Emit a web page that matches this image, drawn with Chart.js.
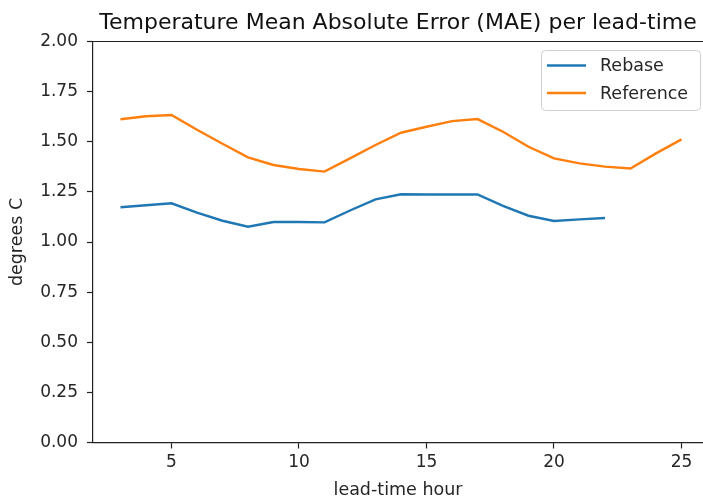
<!DOCTYPE html>
<html>
<head>
<meta charset="utf-8">
<script src="https://cdn.jsdelivr.net/npm/chart.js@4/dist/chart.umd.min.js"></script>
<style>
  html, body { margin: 0; padding: 0; background: #fff; overflow: hidden; }
  #wrap { width: 703px; height: 501px; position: relative; }
</style>
</head>
<body>
<div id="wrap"><canvas id="c" width="703" height="501"></canvas></div>
<script>
// ---- data ----
const hoursRebase = [3,4,5,6,7,8,9,10,11,12,13,14,15,16,17,18,19,20,21,22];
const rebaseMAE   = [1.173,1.183,1.193,1.146,1.106,1.076,1.100,1.100,1.098,1.157,1.213,1.238,1.237,1.237,1.237,1.180,1.131,1.105,1.113,1.120];
const hoursReference = [3,4,5,6,7,8,9,10,11,12,13,14,15,16,17,18,19,20,21,22,23,24,25];
const referenceMAE   = [1.612,1.627,1.633,1.560,1.490,1.422,1.384,1.364,1.351,1.417,1.484,1.545,1.575,1.603,1.613,1.550,1.475,1.417,1.392,1.376,1.367,1.442,1.512];
const xTicks = [5,10,15,20,25];
const yTicks = [0,0.25,0.5,0.75,1.0,1.25,1.5,1.75,2.0];
const seriesNames = ['Rebase','Reference'];
const titleText = 'Temperature Mean Absolute Error (MAE) per lead-time';
const xLabel = 'lead-time hour';
const yLabel = 'degrees C';

const FONT = 'DejaVu Sans';
const toPts = (xs, ys) => xs.map((x, i) => ({x: x, y: ys[i]}));

const frameTop = {
  id: 'frameTop',
  afterDraw(chart) {
    const {ctx, chartArea: a} = chart;
    ctx.save();
    ctx.strokeStyle = '#222';
    ctx.lineWidth = 1.2;
    ctx.beginPath();
    ctx.moveTo(a.left, a.top);
    ctx.lineTo(a.right + 10, a.top);
    ctx.stroke();
    ctx.restore();
  }
};

const boxLegend = {
  id: 'boxLegend',
  afterDraw(chart) {
    const {ctx} = chart;
    const ds = chart.data.datasets;
    const bx = 541, by = 50, bw = 159, bh = 60;
    ctx.save();
    ctx.fillStyle = 'rgba(255,255,255,0.8)';
    ctx.strokeStyle = '#d0d0d0';
    ctx.lineWidth = 1;
    ctx.beginPath();
    ctx.roundRect(bx + 0.5, by + 0.5, bw, bh, 4);
    ctx.fill();
    ctx.stroke();
    ctx.font = '17.5px "' + FONT + '"';
    ctx.textBaseline = 'middle';
    ctx.textAlign = 'left';
    ds.forEach((d, i) => {
      const y = 65.5 + i * 27.5;
      ctx.strokeStyle = d.borderColor;
      ctx.lineWidth = 2.4;
      ctx.beginPath();
      ctx.moveTo(547, y);
      ctx.lineTo(586, y);
      ctx.stroke();
      ctx.fillStyle = '#262626';
      ctx.fillText(d.label, 600, y + 1);
    });
    ctx.restore();
  }
};

new Chart(document.getElementById('c'), {
  type: 'line',
  data: {
    datasets: [
      { label: seriesNames[0], data: toPts(hoursRebase, rebaseMAE), borderColor: '#1f77b4', borderWidth: 2.4, pointRadius: 0, tension: 0, fill: false },
      { label: seriesNames[1], data: toPts(hoursReference, referenceMAE), borderColor: '#ff7f0e', borderWidth: 2.4, pointRadius: 0, tension: 0, fill: false }
    ]
  },
  options: {
    responsive: false,
    animation: false,
    layout: { padding: 0 },
    plugins: {
      legend: { display: false },
      tooltip: { enabled: false },
      title: {
        display: true,
        text: titleText,
        fullSize: false,
        color: '#111',
        font: { family: FONT, size: 22, weight: 'normal', lineHeight: 1.2 },
        padding: { top: 10.2, bottom: 4.9 }
      }
    },
    scales: {
      x: {
        type: 'linear',
        min: 1.922,
        max: 25.843,
        afterFit(s) { s.height = 58.5; },
        afterBuildTicks(s) { s.ticks = xTicks.map(v => ({value: v})); },
        ticks: { font: { family: FONT, size: 17 }, color: '#262626', padding: 4, maxRotation: 0, includeBounds: false },
        grid: { drawOnChartArea: false, drawTicks: true, tickLength: 6, tickColor: '#222', tickWidth: 1.2 },
        border: { display: true, color: '#222', width: 1.2 },
        title: { display: true, text: xLabel, color: '#262626', font: { family: FONT, size: 17.5 }, padding: { top: 0, bottom: 0 } }
      },
      y: {
        min: 0,
        max: 2,
        afterFit(s) { s.width = 93; },
        afterBuildTicks(s) { s.ticks = yTicks.map(v => ({value: v})); },
        ticks: { font: { family: FONT, size: 17 }, color: '#262626', padding: 9, callback: v => Number(v).toFixed(2) },
        grid: { drawOnChartArea: false, drawTicks: true, tickLength: 6, tickColor: '#222', tickWidth: 1.2 },
        border: { display: true, color: '#222', width: 1.2 },
        title: { display: true, text: yLabel, color: '#262626', font: { family: FONT, size: 17.5 }, padding: { top: 7, bottom: 0 } }
      }
    }
  },
  plugins: [frameTop, boxLegend]
});
</script>
</body>
</html>
